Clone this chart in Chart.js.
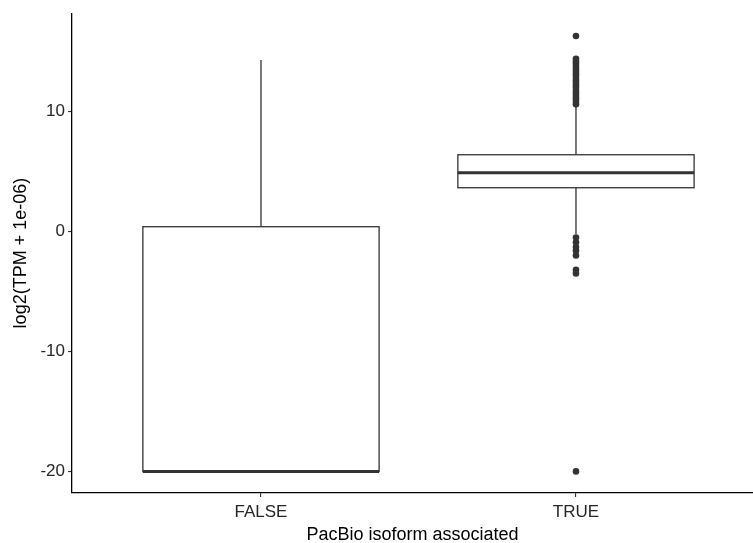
<!DOCTYPE html>
<html>
<head>
<meta charset="utf-8">
<title>PacBio isoform boxplot</title>
<script src="https://cdn.jsdelivr.net/npm/chart.js@4"></script>
<style>
    html, body { margin: 0; padding: 0; background: #ffffff; }
    #wrap { width: 753px; height: 543px; }
</style>
</head>
<body>
<div id="wrap"><canvas id="boxChart"></canvas></div>
<script>
// categories and box statistics
var categories = ['FALSE', 'TRUE'];
var lowerWhisker = [-20, -0.2];
var q1Values = [-20, 3.65];
var medianValues = [-20, 4.9];
var q3Values = [0.4, 6.4];
var upperWhisker = [14.3, 10.4];

// outliers per category
var outliersFalse = [];
var outliersTrue = [16.3, 14.4, 14.2, 14.0, 13.8, 13.6, 13.4, 13.2, 13.0, 12.8, 12.6, 12.4,
    12.2, 12.0, 11.8, 11.6, 11.4, 11.2, 11.0, 10.8, 10.6,
    -0.5, -0.9, -1.3, -1.6, -2.0, -3.2, -3.5, -20];

var yTicks = [-20, -10, 0, 10];

var font = '"Liberation Sans", Arial, Helvetica, sans-serif';
var dark = '#333333';

// scatter points for the outliers
var outlierPoints = [];
outliersFalse.forEach(function (v) { outlierPoints.push({ x: 1, y: v }); });
outliersTrue.forEach(function (v) { outlierPoints.push({ x: 2, y: v }); });

// draws boxes, medians and whiskers through the chart scales
var boxPlugin = {
    id: 'boxPlugin',
    beforeDatasetsDraw: function (chart) {
        var ctx = chart.ctx;
        var xs = chart.scales.x;
        var ys = chart.scales.y;
        var halfWidth = 0.375;
        ctx.save();
        ctx.strokeStyle = dark;
        for (var i = 0; i < categories.length; i++) {
            var cx = xs.getPixelForValue(i + 1);
            var left = xs.getPixelForValue(i + 1 - halfWidth);
            var right = xs.getPixelForValue(i + 1 + halfWidth);
            var top = ys.getPixelForValue(q3Values[i]);
            var bottom = ys.getPixelForValue(q1Values[i]);

            // whiskers
            ctx.lineWidth = 1.3;
            ctx.beginPath();
            ctx.moveTo(cx, ys.getPixelForValue(upperWhisker[i]));
            ctx.lineTo(cx, top);
            ctx.moveTo(cx, bottom);
            ctx.lineTo(cx, ys.getPixelForValue(lowerWhisker[i]));
            ctx.stroke();

            // box
            ctx.fillStyle = '#ffffff';
            ctx.fillRect(left, top, right - left, bottom - top);
            ctx.strokeRect(left, top, right - left, bottom - top);

            // median
            var my = ys.getPixelForValue(medianValues[i]);
            ctx.lineWidth = 3;
            ctx.beginPath();
            ctx.moveTo(left, my);
            ctx.lineTo(right, my);
            ctx.stroke();
        }
        ctx.restore();
    }
};

var ctx = document.getElementById('boxChart').getContext('2d');
var myChart = new Chart(ctx, {
    type: 'scatter',
    data: {
        datasets: [{
            label: 'outliers',
            data: outlierPoints,
            backgroundColor: dark,
            borderColor: dark,
            pointRadius: 3.3,
            pointBorderWidth: 0
        }]
    },
    options: {
        responsive: true,
        maintainAspectRatio: false,
        animation: false,
        layout: { autoPadding: false, padding: { top: 10, right: 0, left: 0, bottom: 0 } },
        plugins: {
            legend: { display: false },
            tooltip: { enabled: false }
        },
        scales: {
            x: {
                type: 'linear',
                min: 0.4,
                max: 2.562,
                afterBuildTicks: function (scale) {
                    scale.ticks = categories.map(function (c, i) { return { value: i + 1 }; });
                },
                afterFit: function (scale) { scale.height = 50; },
                grid: { drawOnChartArea: false, drawTicks: true, tickLength: 4, color: dark, lineWidth: 1.1 },
                border: { display: true, color: '#000000', width: 1.3 },
                ticks: {
                    padding: 5,
                    color: '#262626',
                    font: { family: font, size: 17 },
                    callback: function (value) { return categories[value - 1]; }
                },
                title: {
                    display: true,
                    text: 'PacBio isoform associated',
                    color: '#000000',
                    font: { family: font, size: 18 },
                    padding: { top: 0, bottom: -3 }
                }
            },
            y: {
                type: 'linear',
                min: -21.8,
                max: 18.2,
                afterBuildTicks: function (scale) {
                    scale.ticks = yTicks.map(function (v) { return { value: v }; });
                },
                afterFit: function (scale) { scale.width = 72; },
                grid: { drawOnChartArea: false, drawTicks: true, tickLength: 4, color: dark, lineWidth: 1.1 },
                border: { display: true, color: '#000000', width: 1.3 },
                ticks: {
                    padding: 3,
                    color: '#262626',
                    font: { family: font, size: 17 }
                },
                title: {
                    display: true,
                    text: 'log2(TPM + 1e-06)',
                    color: '#000000',
                    font: { family: font, size: 18 },
                    padding: { top: 10, bottom: 4 }
                }
            }
        }
    },
    plugins: [boxPlugin]
});
</script>
</body>
</html>
